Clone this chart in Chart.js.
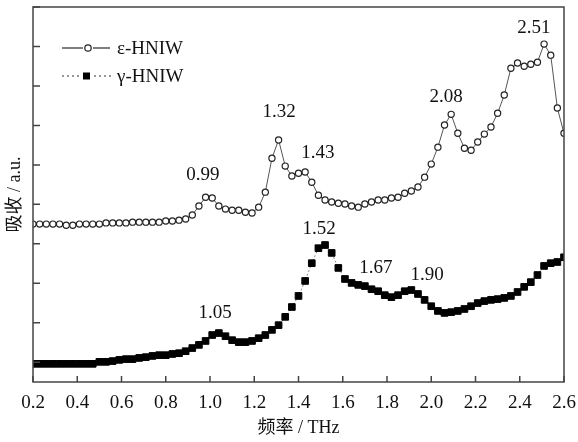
<!DOCTYPE html>
<html>
<head>
<meta charset="utf-8">
<script src="https://cdn.jsdelivr.net/npm/chart.js@4.4.0/dist/chart.umd.min.js"></script>
<style>
    html, body { margin: 0; padding: 0; background: #fff; }
    #thz-chart { display: block; }
</style>
</head>
<body>
<canvas id="thz-chart" width="578" height="442"></canvas>
<script>
    // Frequency grid (THz)
    var freq = [
        0.20, 0.23, 0.26, 0.29, 0.32, 0.35, 0.38, 0.41, 0.44, 0.47,
        0.50, 0.53, 0.56, 0.59, 0.62, 0.65, 0.68, 0.71, 0.74, 0.77,
        0.80, 0.83, 0.86, 0.89, 0.92, 0.95, 0.98, 1.01, 1.04, 1.07,
        1.10, 1.13, 1.16, 1.19, 1.22, 1.25, 1.28, 1.31, 1.34, 1.37,
        1.40, 1.43, 1.46, 1.49, 1.52, 1.55, 1.58, 1.61, 1.64, 1.67,
        1.70, 1.73, 1.76, 1.79, 1.82, 1.85, 1.88, 1.91, 1.94, 1.97,
        2.00, 2.03, 2.06, 2.09, 2.12, 2.15, 2.18, 2.21, 2.24, 2.27,
        2.30, 2.33, 2.36, 2.39, 2.42, 2.45, 2.48, 2.51, 2.54, 2.57,
        2.60
    ];

    // epsilon-HNIW absorption (a.u.)
    var epsAbs = [
        4.50, 4.50, 4.50, 4.50, 4.50, 4.47, 4.47, 4.50, 4.50, 4.50,
        4.50, 4.53, 4.53, 4.53, 4.53, 4.55, 4.55, 4.55, 4.55, 4.55,
        4.58, 4.58, 4.60, 4.63, 4.73, 4.96, 5.18, 5.16, 4.96, 4.88,
        4.85, 4.85, 4.80, 4.78, 4.93, 5.31, 6.17, 6.63, 5.97, 5.72,
        5.79, 5.82, 5.56, 5.23, 5.11, 5.06, 5.03, 5.01, 4.96, 4.93,
        5.01, 5.06, 5.11, 5.11, 5.16, 5.18, 5.28, 5.34, 5.44, 5.69,
        6.02, 6.45, 7.01, 7.28, 6.80, 6.42, 6.37, 6.58, 6.78, 6.96,
        7.31, 7.77, 8.45, 8.58, 8.50, 8.55, 8.60, 9.06, 8.78, 7.44,
        6.80
    ];

    // gamma-HNIW absorption (a.u.)
    var gamAbs = [
        0.96, 0.96, 0.96, 0.96, 0.96, 0.96, 0.96, 0.96, 0.96, 0.96,
        1.01, 1.01, 1.03, 1.06, 1.08, 1.08, 1.11, 1.13, 1.16, 1.18,
        1.18, 1.21, 1.23, 1.28, 1.36, 1.44, 1.54, 1.69, 1.74, 1.66,
        1.56, 1.51, 1.51, 1.54, 1.61, 1.69, 1.82, 1.94, 2.15, 2.40,
        2.68, 3.06, 3.51, 3.89, 3.97, 3.77, 3.39, 3.11, 3.01, 2.96,
        2.93, 2.85, 2.80, 2.70, 2.65, 2.70, 2.80, 2.83, 2.73, 2.58,
        2.42, 2.30, 2.25, 2.27, 2.30, 2.35, 2.42, 2.50, 2.55, 2.58,
        2.60, 2.63, 2.68, 2.78, 2.91, 3.03, 3.21, 3.44, 3.51, 3.54,
        3.66
    ];

    // Peak labels and where they sit (data coords)
    var peakText = ["0.99", "1.32", "1.43", "2.08", "2.51", "1.05", "1.52", "1.67", "1.90"];
    var peakX    = [0.968, 1.312, 1.488, 2.067, 2.464, 1.023, 1.493, 1.750, 1.981];
    var peakY    = [5.74, 7.34, 6.30, 7.72, 9.46, 2.25, 4.37, 3.39, 3.21];

    var xTicks = [0.2, 0.4, 0.6, 0.8, 1.0, 1.2, 1.4, 1.6, 1.8, 2.0, 2.2, 2.4, 2.6];
    var yTicks = [1, 2, 3, 4, 5, 6, 7, 8, 9, 10];

    var serif = "'Liberation Serif', 'Times New Roman', 'Noto Sans CJK SC', serif";
    var frameColor = "#444";

    function toPoints(xs, ys) {
        return xs.map(function (x, i) { return {x: x, y: ys[i]}; });
    }

    // Frame, inward ticks, peak labels and legend
    var decorations = {
        id: "decorations",
        afterDraw: function (chart) {
            var ctx = chart.ctx;
            var area = chart.chartArea;
            var xs = chart.scales.x;
            var ys = chart.scales.y;

            ctx.save();
            ctx.strokeStyle = frameColor;
            ctx.lineWidth = 1.5;
            ctx.strokeRect(area.left, area.top, area.right - area.left, area.bottom - area.top);

            ctx.beginPath();
            xTicks.forEach(function (t) {
                var px = xs.getPixelForValue(t);
                ctx.moveTo(px, area.bottom);
                ctx.lineTo(px, area.bottom - 6);
            });
            yTicks.forEach(function (t) {
                var py = ys.getPixelForValue(t);
                ctx.moveTo(area.left, py);
                ctx.lineTo(area.left + 7, py);
            });
            ctx.stroke();

            // peak labels
            ctx.fillStyle = "#111";
            ctx.font = "19px " + serif;
            ctx.textAlign = "center";
            ctx.textBaseline = "middle";
            peakText.forEach(function (txt, i) {
                ctx.fillText(txt, xs.getPixelForValue(peakX[i]), ys.getPixelForValue(peakY[i]));
            });

            // legend
            var lx = area.left + 29;
            var ly1 = area.top + 41;
            var ly2 = area.top + 69;

            ctx.strokeStyle = "#555";
            ctx.lineWidth = 1.5;
            ctx.beginPath();
            ctx.moveTo(lx, ly1); ctx.lineTo(lx + 21, ly1);
            ctx.moveTo(lx + 31, ly1); ctx.lineTo(lx + 48, ly1);
            ctx.stroke();
            ctx.fillStyle = "#fff";
            ctx.strokeStyle = "#222";
            ctx.lineWidth = 1.2;
            ctx.beginPath();
            ctx.arc(lx + 26, ly1, 3.2, 0, Math.PI * 2);
            ctx.fill();
            ctx.stroke();

            ctx.strokeStyle = "#777";
            ctx.lineWidth = 1.5;
            ctx.setLineDash([2, 3]);
            ctx.beginPath();
            ctx.moveTo(lx, ly2); ctx.lineTo(lx + 19, ly2);
            ctx.moveTo(lx + 32, ly2); ctx.lineTo(lx + 50, ly2);
            ctx.stroke();
            ctx.setLineDash([]);
            ctx.fillStyle = "#000";
            ctx.fillRect(lx + 21, ly2 - 3.5, 7, 7);

            ctx.fillStyle = "#111";
            ctx.font = "19px " + serif;
            ctx.textAlign = "left";
            ctx.fillText("\u03b5-HNIW", lx + 55, ly1 + 1);
            ctx.fillText("\u03b3-HNIW", lx + 55, ly2 + 1);
            ctx.restore();
        }
    };

    var ctx = document.getElementById("thz-chart").getContext("2d");
    var thzChart = new Chart(ctx, {
        type: "line",
        data: {
            datasets: [{
                label: "\u03b5-HNIW",
                data: toPoints(freq, epsAbs),
                clip: 0,
                borderColor: "#555",
                borderWidth: 1,
                pointStyle: "circle",
                pointRadius: 3.1,
                pointBorderWidth: 1.2,
                pointBorderColor: "#222",
                pointBackgroundColor: "#fff",
                tension: 0
            }, {
                label: "\u03b3-HNIW",
                data: toPoints(freq, gamAbs),
                clip: 0,
                borderColor: "#888",
                borderWidth: 1,
                borderDash: [2, 2],
                pointStyle: "rect",
                pointRadius: 4.7,
                pointBorderWidth: 1,
                pointBorderColor: "#000",
                pointBackgroundColor: "#000",
                tension: 0
            }]
        },
        options: {
            responsive: false,
            animation: false,
            layout: {
                padding: {top: 7, right: 14, bottom: 0, left: 0}
            },
            plugins: {
                legend: {display: false},
                tooltip: {enabled: false}
            },
            scales: {
                x: {
                    type: "linear",
                    min: 0.2,
                    max: 2.6,
                    afterBuildTicks: function (scale) {
                        scale.ticks = xTicks.map(function (v) { return {value: v}; });
                    },
                    afterFit: function (scale) {
                        scale.height = 60;
                        scale.paddingLeft = 0;
                        scale.paddingRight = 0;
                    },
                    grid: {display: false, drawTicks: false},
                    border: {display: false},
                    ticks: {
                        padding: 10,
                        color: "#111",
                        font: {family: serif, size: 19},
                        maxRotation: 0,
                        autoSkip: false,
                        callback: function (v) { return v.toFixed(1); }
                    },
                    title: {
                        display: true,
                        text: "\u9891\u7387 / THz",
                        color: "#111",
                        font: {family: serif, size: 18},
                        padding: {top: 0, bottom: 3}
                    }
                },
                y: {
                    min: 0.5,
                    max: 10,
                    afterBuildTicks: function (scale) {
                        scale.ticks = yTicks.map(function (v) { return {value: v}; });
                    },
                    afterFit: function (scale) { scale.width = 33; },
                    grid: {display: false, drawTicks: false},
                    border: {display: false},
                    ticks: {display: false},
                    title: {
                        display: true,
                        text: "\u5438\u6536 / a.u.",
                        color: "#111",
                        font: {family: serif, size: 18},
                        padding: {top: 4, bottom: 0}
                    }
                }
            }
        },
        plugins: [decorations]
    });
</script>
</body>
</html>
